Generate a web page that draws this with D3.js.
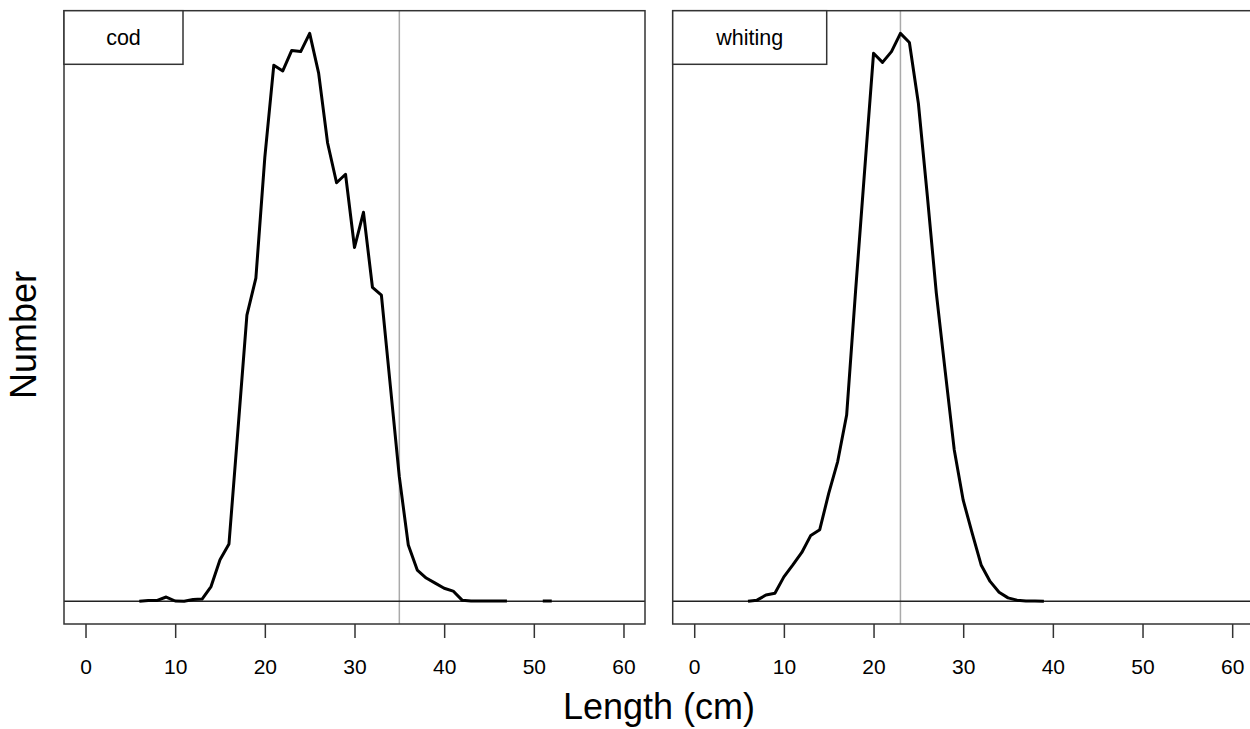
<!DOCTYPE html>
<html lang="en">
<head>
<meta charset="UTF-8">
<title>Length distributions</title>
<script src="https://cdn.jsdelivr.net/npm/d3@7"></script>
<style>
	body { margin: 0; background: #fff; font-family: "Liberation Sans", Arial, sans-serif; }
	.box { fill: none; stroke: #333; stroke-width: 1.5px }
	.zero { stroke: #222; stroke-width: 1.5px }
	.ref { stroke: #aaa; stroke-width: 1.5px }
	.curve { fill: none; stroke: #000; stroke-width: 3px; stroke-linejoin: round }
	.axis text { font-size: 21px; fill: #000 }
	.axis line { stroke: #333; stroke-width: 1.5px }
	.legend rect { fill: #fff; stroke: #333; stroke-width: 1.5px }
	.legend text { font-size: 21.5px; fill: #000 }
	.title { font-size: 36px; fill: #000 }
</style>
</head>
<body>
<script>

// length classes (cm) and relative numbers
var codLength = [6,7,8,9,10,11,12,13,14,15,16,17,18,19,20,21,22,23,24,25,26,27,28,29,30,31,32,33,34,35,36,37,38,39,40,41,42,43,44,45,46,47,48,49,50,51,52];
var codNumber = [0,0.15,0.15,0.75,0.05,0,0.3,0.4,2.6,7.3,10.1,30.2,50.4,56.9,78.2,94.4,93.4,97.0,96.8,100,93.0,80.7,73.7,75.2,62.3,68.5,55.3,53.9,37.9,21.9,9.9,5.5,4.1,3.2,2.3,1.8,0.2,0.05,0.05,0.05,0.05,0.05,null,null,null,0.05,0.05];

var whitingLength = [6,7,8,9,10,11,12,13,14,15,16,17,18,19,20,21,22,23,24,25,26,27,28,29,30,31,32,33,34,35,36,37,38,39];
var whitingNumber = [0,0.2,1.1,1.4,4.3,6.4,8.6,11.6,12.6,19.0,24.6,32.8,54.7,75.7,96.5,94.9,96.8,100,98.4,87.7,71.4,54.3,40.4,26.7,17.8,12.0,6.4,3.5,1.6,0.6,0.2,0.05,0.05,0];

var xTicks = [0,10,20,30,40,50,60];
var panels = [
	{ name: 'cod', length: codLength, number: codNumber, ref: 35, left: 64, legendW: 119 },
	{ name: 'whiting', length: whitingLength, number: whitingNumber, ref: 23, left: 672.7, legendW: 154 }
];

var W = 1250, H = 729;
var plotTop = 10.7, plotBottom = 624;
var boxW = 581;

var svg = d3.select('body').append('svg')
	.attr('width', W)
	.attr('height', H);

panels.forEach(function(p) {
	// R style 4% padding on both axes
	var x = d3.scaleLinear().domain([-2.4, 62.4]).range([p.left, p.left + boxW]);
	var ymax = d3.max(p.number);
	var y = d3.scaleLinear().domain([-0.04 * ymax, 1.04 * ymax]).range([plotBottom, plotTop]);

	var g = svg.append('g');

	g.append('line')
		.attr('class', 'ref')
		.attr('x1', x(p.ref)).attr('x2', x(p.ref))
		.attr('y1', plotTop).attr('y2', plotBottom);

	g.append('line')
		.attr('class', 'zero')
		.attr('x1', x(-2.4)).attr('x2', x(62.4))
		.attr('y1', y(0)).attr('y2', y(0));

	var line = d3.line()
		.defined(function(d, i) { return p.number[i] != null; })
		.x(function(d) { return x(d); })
		.y(function(d, i) { return y(p.number[i]); });

	g.append('path')
		.attr('class', 'curve')
		.attr('d', line(p.length));

	g.append('rect')
		.attr('class', 'box')
		.attr('x', x(-2.4)).attr('y', plotTop)
		.attr('width', boxW).attr('height', plotBottom - plotTop);

	var axis = g.append('g')
		.attr('class', 'axis')
		.attr('transform', 'translate(0,' + plotBottom + ')')
		.call(d3.axisBottom(x).tickValues(xTicks).tickSize(14).tickPadding(21));
	axis.select('.domain').remove();
	axis.selectAll('text').attr('font-family', null).attr('font-size', null);

	var legend = g.append('g').attr('class', 'legend');
	legend.append('rect')
		.attr('x', x(-2.4)).attr('y', plotTop)
		.attr('width', p.legendW).attr('height', 53.6);
	legend.append('text')
		.attr('x', x(-2.4) + p.legendW / 2)
		.attr('y', plotTop + 27)
		.attr('dy', '0.35em')
		.attr('text-anchor', 'middle')
		.text(p.name);
});

svg.append('text')
	.attr('class', 'title')
	.attr('x', 659)
	.attr('y', 719)
	.attr('text-anchor', 'middle')
	.text('Length (cm)');

svg.append('text')
	.attr('class', 'title')
	.attr('transform', 'translate(36,335) rotate(-90)')
	.attr('text-anchor', 'middle')
	.text('Number');

</script>
</body>
</html>
